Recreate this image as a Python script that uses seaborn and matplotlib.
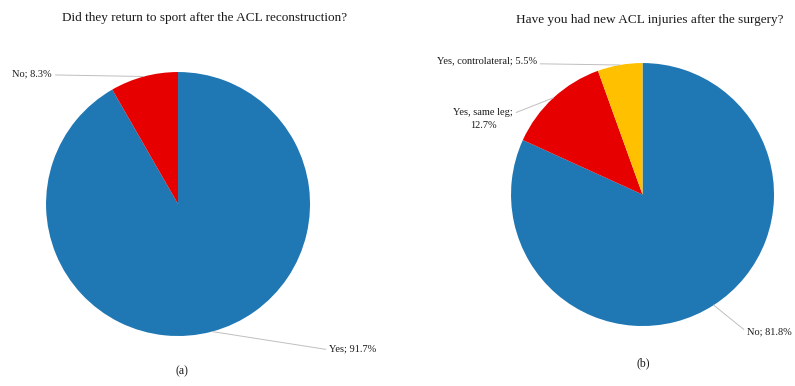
import numpy as np
import matplotlib.pyplot as plt
import seaborn as sns

# (a) return to sport
sport_labels = ["Yes", "No"]
sport_values = [91.7, 8.3]
sport_colors = ["#1F77B4", "#E60000"]

# (b) new ACL injuries
injury_labels = ["No", "Yes, same leg", "Yes, controlateral"]
injury_values = [81.8, 12.7, 5.5]
injury_colors = ["#1F77B4", "#E60000", "#FFC000"]

sns.set_style("white")
plt.rcParams["font.family"] = ["Liberation Serif", "DejaVu Serif"]

fig = plt.figure(figsize=(7.95, 3.86), dpi=100)
ax1 = fig.add_axes([0.0579, 0.1295, 0.3321, 0.6839])
ax2 = fig.add_axes([0.6428, 0.1554, 0.3308, 0.6813])


def draw_pie(ax, values, colors):
    wedges, _ = ax.pie(values, colors=colors, startangle=90, counterclock=False,
                       radius=1, wedgeprops=dict(linewidth=0))
    ax.set_xlim(-1, 1)
    ax.set_ylim(-1, 1)
    ax.axis("off")
    return wedges


def leader(ax, wedge, text, xytext, ha, relpos, va="center"):
    ang = np.deg2rad((wedge.theta1 + wedge.theta2) / 2)
    ax.annotate(text, xy=(np.cos(ang), np.sin(ang)), xytext=xytext,
                ha=ha, va=va, fontsize=7.5, color="#1a1a1a",
                multialignment="center", linespacing=1.45, annotation_clip=False,
                arrowprops=dict(arrowstyle="-", color="#BFBFBF", lw=0.7,
                                shrinkA=0, shrinkB=0, relpos=relpos))


w1 = draw_pie(ax1, sport_values, sport_colors)
leader(ax1, w1[0], f"{sport_labels[0]}; {sport_values[0]}%", (1.144, -1.098), "left", (0, 0.4))
leader(ax1, w1[1], f"{sport_labels[1]}; {sport_values[1]}%", (-0.955, 0.985), "right", (1, 0.4))

w2 = draw_pie(ax2, injury_values, injury_colors)
leader(ax2, w2[0], f"{injury_labels[0]}; {injury_values[0]}%", (0.795, -1.046), "left", (0, 0.5))
leader(ax2, w2[1], f"{injury_labels[1]};\n{injury_values[1]}%", (-1.213, 0.574), "center", (1, 0.75))
leader(ax2, w2[2], f"{injury_labels[2]}; {injury_values[2]}%", (-0.802, 1.015), "right", (1, 0.2))

fig.text(205 / 795, 1 - 18 / 386, "Did they return to sport after the ACL reconstruction?",
         ha="center", va="center", fontsize=9.5, color="#1a1a1a")
fig.text(650 / 795, 1 - 20 / 386, "Have you had new ACL injuries after the surgery?",
         ha="center", va="center", fontsize=9.5, color="#1a1a1a")
fig.text(182 / 795, 1 - 371 / 386, "(a)", ha="center", va="center", fontsize=8.5, color="#1a1a1a")
fig.text(643 / 795, 1 - 363 / 386, "(b)", ha="center", va="center", fontsize=8.5, color="#1a1a1a")

fig.savefig("out.png", dpi=100)
